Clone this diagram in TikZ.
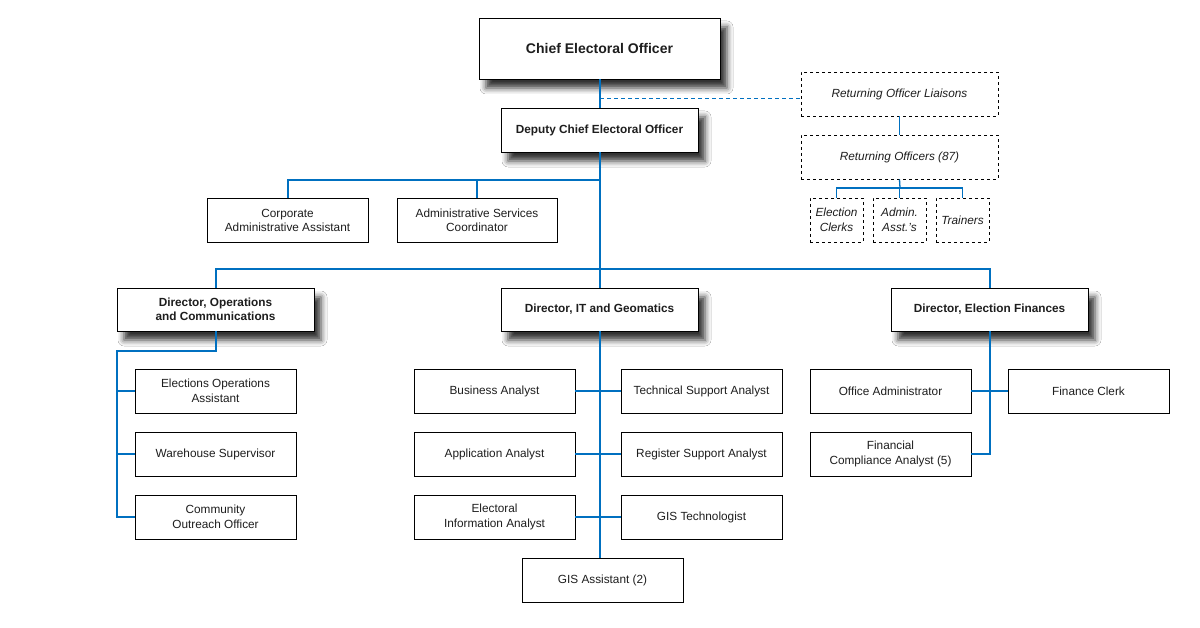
\documentclass[tikz,border=0pt]{standalone}
\usepackage{fontspec}
\setmainfont{Liberation Sans}
\usetikzlibrary{calc}
\usetikzlibrary{backgrounds}
\usetikzlibrary{shadows.blur}
\definecolor{orgblue}{RGB}{0,112,192}
\definecolor{txtgray}{RGB}{30,30,30}

\begin{document}
\begin{tikzpicture}[x=1pt,y=-1pt,
  post/.style={draw=black, line width=.9pt, fill=white, inner sep=0, align=center, text=txtgray,
    minimum width=161pt, minimum height=44pt, font=\fontsize{11.8}{14.5}\selectfont},
  head/.style={post, minimum width=197pt, font=\bfseries\fontsize{11.8}{14.5}\selectfont,
    blur shadow={shadow xshift=7pt, shadow yshift=-9pt, shadow blur radius=6pt, shadow opacity=80}},
  temp/.style={post, dashed, minimum width=197pt, font=\itshape\fontsize{11.8}{14.5}\selectfont},
  small/.style={temp, minimum width=53pt},
  link/.style={orgblue, line width=2pt},
  thinlink/.style={orgblue, line width=1.3pt},
  shade/.style={black, opacity=.07, line width=#1, line cap=round}]
\useasboundingbox (0,0) rectangle (1200,628);
\fill[white] (0,0) rectangle (1200,628);
% top of the chart
\node[head, minimum width=241pt, minimum height=61pt, font=\bfseries\fontsize{14}{16}\selectfont] (chief) at (599.5,48.5) {Chief Electoral Officer};
\node[head] (deputy) at (599.5,130) {Deputy Chief Electoral Officer};
\node[post] (corp) at (287.5,220.5) {Corporate\\Administrative Assistant};
\node[post, minimum width=160pt] (adminsvc) at (477,220.5) {Administrative Services\\Coordinator};
% returning officers
\node[temp] (liaisons) at (899.5,94) {Returning Officer Liaisons};
\node[temp] (ros) at (899.5,157) {Returning Officers (87)};
\node[small] (clerks) at (836.5,220) {Election\\Clerks};
\node[small] (assts) at (899.5,220) {Admin.\\Asst.'s};
\node[small] (trainers) at (962.5,220) {Trainers};
% directors
\node[head, minimum height=43pt] (dirops) at (215.5,309.5) {Director, Operations\\and Communications};
\node[head, minimum height=43pt] (dirit) at (599.5,309.5) {Director, IT and Geomatics};
\node[head, minimum height=43pt] (dirfin) at (989.5,309.5) {Director, Election Finances};
% operations
\node[post] (eoa) at (215.5,391) {Elections Operations\\Assistant};
\node[post] (whs) at (215.5,454) {Warehouse Supervisor};
\node[post] (coo) at (215.5,517) {Community\\Outreach Officer};
% IT
\node[post] (ba) at (494.5,391) {Business Analyst};
\node[post] (tsa) at (701.5,391) {Technical Support Analyst};
\node[post] (aa) at (494.5,454) {Application Analyst};
\node[post] (rsa) at (701.5,454) {Register Support Analyst};
\node[post] (eia) at (494.5,517) {Electoral\\Information Analyst};
\node[post] (gist) at (701.5,517) {GIS Technologist};
\node[post] (gisa) at (602.5,580) {GIS Assistant (2)};
% finances
\node[post] (offadm) at (890.5,391) {Office Administrator};
\node[post] (fclerk) at (1088.5,391) {Finance Clerk};
\node[post] (fca) at (890.5,454) {Financial\\Compliance Analyst (5)};

\coordinate (dl) at (600,98);
\coordinate (b1) at (600,180);
\coordinate (b2) at (600,269);
\coordinate (opsbus) at (117,351);
\coordinate (rb) at (900,188);
% soft shadow under the main lines
\begin{scope}[on background layer, shift={(7,7)}]
\foreach \w in {3,6,9,12} {
  \draw[shade=\w pt] (chief.south) -- (dirit.north);
  \draw[shade=\w pt] (corp.north |- b1) -- (b1);
  \draw[shade=\w pt] (dirops.north |- b2) -- (dirfin.north |- b2);
}
\end{scope}
\draw[link] (chief.south) -- (deputy.north);
\draw[link] (deputy.south) -- (dirit.north);
\draw[orgblue, line width=.9pt, dash pattern=on 4pt off 3pt] (dl) -- (liaisons.west |- dl);
\draw[link] (corp.north) |- (b1);
\draw[link] (adminsvc.north) -- (adminsvc.north |- b1);
\draw[link] (dirops.north) |- (b2) -| (dirfin.north);
\draw[link] (dirops.south) |- (opsbus) |- (coo.west);
\foreach \p in {eoa,whs} {
  \draw[link] (opsbus |- \p.west) -- (\p.west);
}
\draw[link] (dirit.south) -- (dirit.south |- gisa.north);
\foreach \l/\r in {ba/tsa,aa/rsa,eia/gist} {
  \draw[link] (\l.east) -- (\r.west);
}
\draw[link] (dirfin.south) |- (fca.east);
\draw[link] (offadm.east) -- (fclerk.west);
\draw[thinlink] (liaisons.south) -- (ros.north);
\draw[thinlink] (ros.south) -- (rb);
\draw[thinlink] (clerks.north) |- (rb) -| (trainers.north);
\draw[thinlink] (assts.north) -- (assts.north |- rb);
\end{tikzpicture}
\end{document}
